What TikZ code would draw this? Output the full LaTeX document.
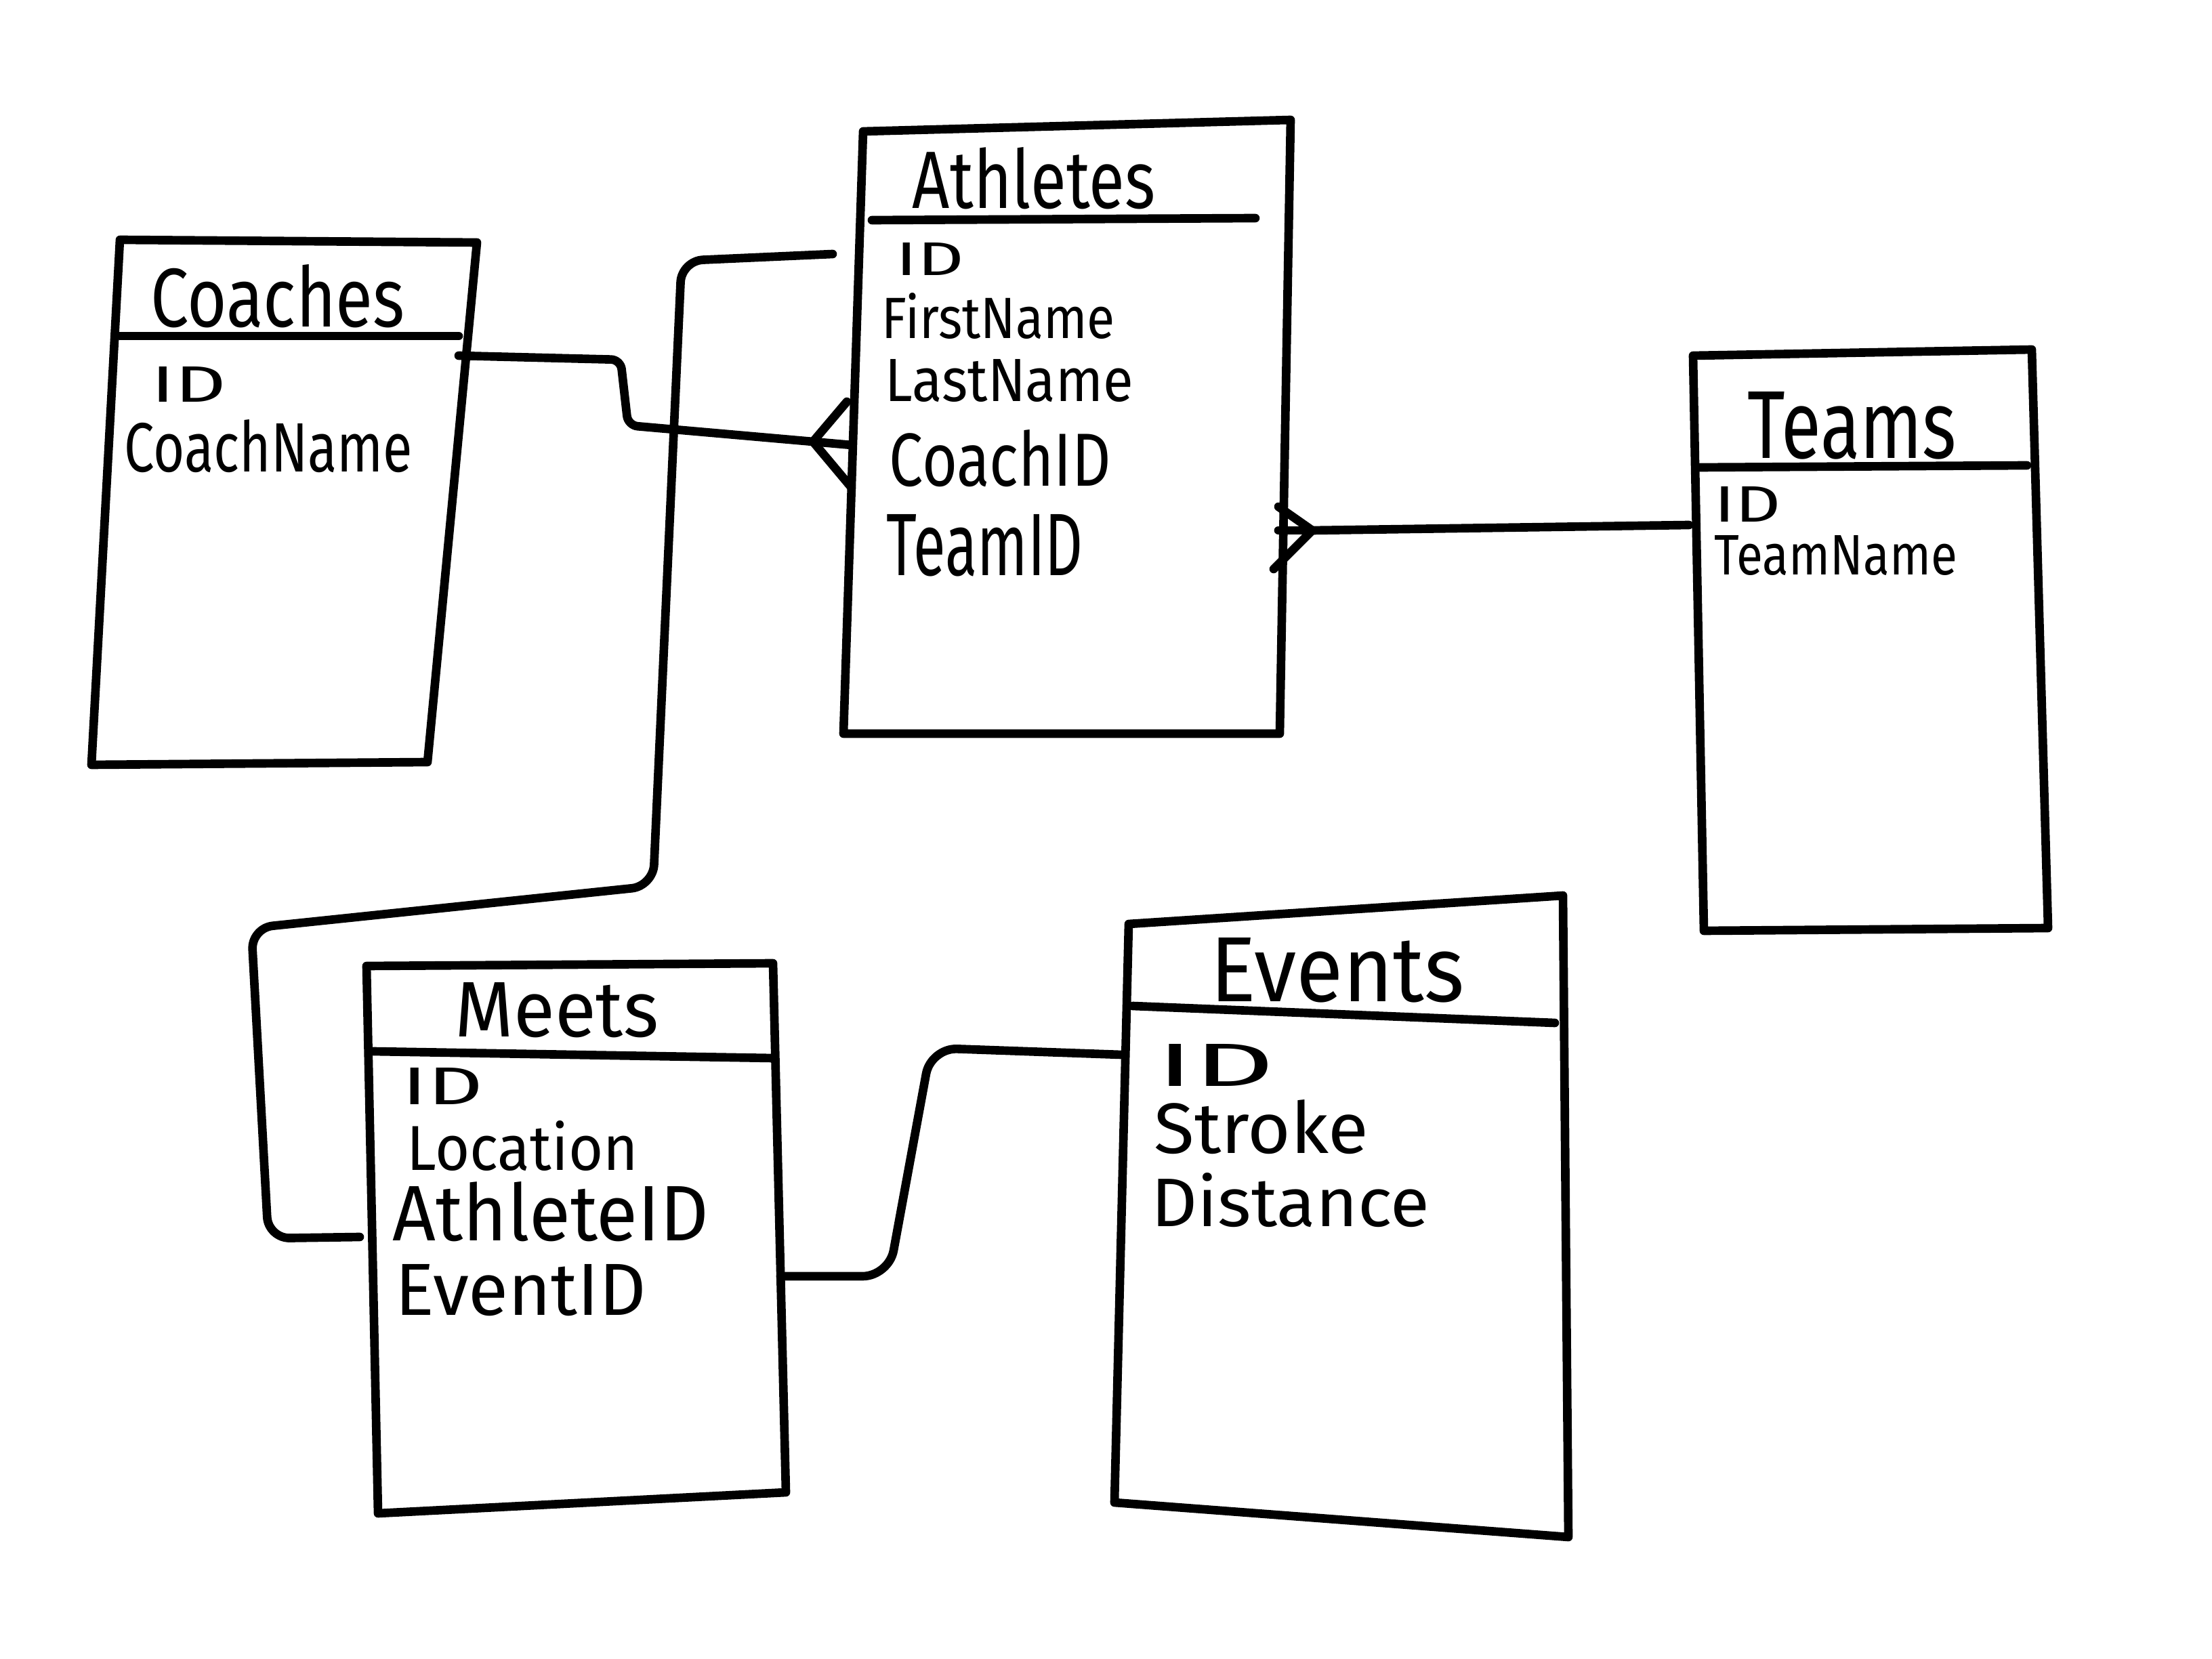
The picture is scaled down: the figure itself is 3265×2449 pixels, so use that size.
\documentclass[tikz,border=0pt]{standalone}
\usepackage{fontspec}
\setmainfont{Fira Sans}
\newcommand{\hw}[3]{\resizebox{#1cm}{#2cm}{#3}}
\tikzset{
  ink/.style={line width=3.6pt, line cap=round, line join=round, black},
  conn/.style={ink, rounded corners=9pt},
  lbl/.style={inner sep=0pt, anchor=west},
  ttl/.style={inner sep=0pt, anchor=center}
}
\begin{document}
\begin{tikzpicture}[x=0.01cm,y=-0.01cm]
\useasboundingbox[fill=white] (0,0) rectangle (3265,2449);

% ---- Coaches ----
\draw[ink] (177,354) -- (704,358) -- (631,1125) -- (135,1129) -- cycle;
\draw[ink] (177,496) -- (677,496);
\node[ttl] (coachesT) at (410,437) {\hw{3.75}{0.92}{Coaches}};
\node[lbl] (cID) at (223,567) {\hw{1.10}{0.52}{ID}};
\node[lbl] (cName) at (183,659) {\hw{4.25}{0.77}{CoachName}};

% ---- Athletes ----
\draw[ink] (1274,194) -- (1905,177) -- (1889,1083) -- (1245,1083) -- cycle;
\draw[ink] (1287,325) -- (1853,322);
\node[ttl] (athT) at (1526,263) {\hw{3.58}{0.90}{Athletes}};
\node[lbl] (aID) at (1322,382) {\hw{1.00}{0.48}{ID}};
\node[lbl] (aFirst) at (1301,466) {\hw{3.44}{0.67}{FirstName}};
\node[lbl] (aLast) at (1306,562) {\hw{3.66}{0.62}{LastName}};
\node[lbl] (aCoach) at (1312,677) {\hw{3.27}{0.83}{CoachID}};
\node[lbl] (aTeam) at (1308,805) {\hw{2.90}{0.90}{TeamID}};

% ---- Teams ----
\draw[ink] (2499,525) -- (2999,516) -- (3023,1370) -- (2515,1374) -- cycle;
\draw[ink] (2509,690) -- (2992,687);
\node[ttl] (teamsT) at (2734,628) {\hw{3.08}{0.98}{Teams}};
\node[lbl] (tID) at (2530,744) {\hw{0.98}{0.52}{ID}};
\node[lbl] (tName) at (2530,820) {\hw{3.58}{0.58}{TeamName}};

% ---- Meets ----
\draw[ink] (541,1426) -- (1141,1422) -- (1160,2203) -- (558,2234) -- cycle;
\draw[ink] (551,1552) -- (1141,1562);
\node[ttl] (meetsT) at (822,1491) {\hw{3.00}{0.80}{Meets}};
\node[lbl] (mID) at (593,1603) {\hw{1.19}{0.54}{ID}};
\node[lbl] (mLoc) at (600,1692) {\hw{3.41}{0.73}{Location}};
\node[lbl] (mAth) at (579,1789) {\hw{4.66}{0.87}{AthleteID}};
\node[lbl] (mEv) at (583,1905) {\hw{3.70}{0.75}{EventID}};

% ---- Events ----
\draw[ink] (1666,1364) -- (2307,1322) -- (2315,2269) -- (1645,2218) -- cycle;
\draw[ink] (1672,1485) -- (2295,1510);
\node[ttl] (evT) at (1974,1432) {\hw{3.75}{0.94}{Events}};
\node[lbl] (eID) at (1707,1572) {\hw{1.73}{0.62}{ID}};
\node[lbl] (eStroke) at (1703,1664) {\hw{3.16}{0.79}{Stroke}};
\node[lbl] (eDist) at (1699,1772) {\hw{4.10}{0.79}{Distance}};

% ---- connector end points ----
\coordinate (c1s) at (677,525);
\coordinate (c1a) at (1200,652);
\coordinate (c2a) at (1937,783);
\coordinate (c2e) at (2493,775);
\coordinate (c3s) at (1229,375);
\coordinate (c3e) at (531,1826);
\coordinate (c4s) at (1152,1884);
\coordinate (c4e) at (1655,1557);

% Coaches -> Athletes (many)
\draw[ink, rounded corners=4pt] (c1s) -- (916,531) -- (927,628) -- (c1a);
\draw[ink] (1250,593) -- (c1a) -- (1257,720);
\draw[ink] (c1a) -- (1257,657);

% Athletes (many) -> Teams
\draw[ink] (c2a) -- (c2e);
\draw[ink] (1887,748) -- (c2a) -- (1880,840);
\draw[ink] (1887,783) -- (c2a);

% Athletes ID -> Meets AthleteID
\draw[conn] (c3s) -- (1006,385) -- (964,1308) -- (371,1370) -- (396,1828) -- (c3e);

% Meets EventID -> Events ID
\draw[ink, rounded corners=11pt] (c4s) -- (1312,1884) -- (1374,1547) -- (c4e);
\end{tikzpicture}
\end{document}
